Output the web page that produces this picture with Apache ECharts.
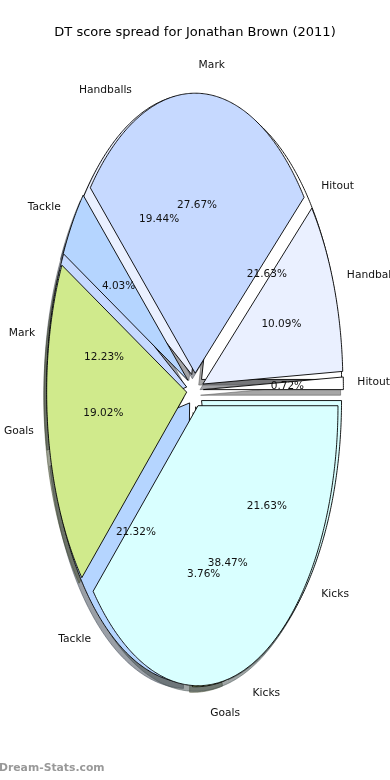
<!DOCTYPE html>
<html><head><meta charset="utf-8">
<script src="https://cdn.jsdelivr.net/npm/echarts@6/dist/echarts.min.js"></script>
<style>html,body{margin:0;padding:0;background:#fff}#c{width:390px;height:780px}</style>
</head><body><div id="c"></div>
<script>
// ---- data ----
const categories = ['Hitout', 'Handballs', 'Mark', 'Tackle', 'Goals', 'Kicks'];
const pctA = [0.72, 10.09, 27.67, 4.03, 19.02, 38.47];   // front pie
const pctB = [21.63, 19.44, 12.23, 21.32, 3.76, 21.63];  // back pie
const sliceColors = ['#ffffff', '#eaf0ff', '#c6d9ff', '#b5d5ff', '#d0ea8c', '#d9ffff'];
const titleText = 'DT score spread for Jonathan Brown (2011)';
const watermarkText = 'Dream-Stats.com';

// ---- layout ----
const CX = 195, CY = 390, RX = 140, RY = 280, EXPLODE = 0.06, SH = -0.02;
const FONT = '"DejaVu Sans", sans-serif';

function buildSlices(pcts, pie) {
  const total = pcts.reduce((a, b) => a + b, 0);
  let acc = 0;
  return pcts.map((v, i) => { const s = acc / total; acc += v; return [s, acc / total, i, pie, v]; });
}
const slicesA = buildSlices(pctA, 0);
const slicesB = buildSlices(pctB, 1);

function geom(t1, t2) {
  const a1 = t1 * 2 * Math.PI, a2 = t2 * 2 * Math.PI, am = (a1 + a2) / 2;
  return { a1, a2, am, ox: EXPLODE * Math.cos(am), oy: EXPLODE * Math.sin(am) };
}
const px = u => CX + u * RX, py = v => CY - v * RY;
function wedgePoints(t1, t2, dx, dy) {
  const g = geom(t1, t2);
  const pts = [[px(g.ox + dx), py(g.oy + dy)]];
  const n = Math.max(2, Math.ceil((g.a2 - g.a1) / (Math.PI / 360)));
  for (let k = 0; k <= n; k++) {
    const a = g.a1 + (g.a2 - g.a1) * k / n;
    pts.push([px(g.ox + dx + Math.cos(a)), py(g.oy + dy + Math.sin(a))]);
  }
  return pts;
}
function shadowColor(hex) {
  const r = parseInt(hex.slice(1, 3), 16), g = parseInt(hex.slice(3, 5), 16), b = parseInt(hex.slice(5, 7), 16);
  return 'rgba(' + Math.round(r * 0.3) + ',' + Math.round(g * 0.3) + ',' + Math.round(b * 0.3) + ',0.5)';
}

function wedgeRender(params, api) {
  const t1 = api.value(0), t2 = api.value(1), ci = api.value(2);
  return {
    type: 'polygon',
    shape: { points: wedgePoints(t1, t2, 0, 0) },
    style: { fill: sliceColors[ci], stroke: '#000', lineWidth: 0.9, lineJoin: 'miter' }
  };
}
function shadowRender(params, api) {
  const t1 = api.value(0), t2 = api.value(1), ci = api.value(2);
  const c = shadowColor(sliceColors[ci]);
  return {
    type: 'polygon',
    shape: { points: wedgePoints(t1, t2, SH, SH) },
    style: { fill: c, stroke: c, lineWidth: 1 }
  };
}
function labelRender(params, api) {
  const t1 = api.value(0), t2 = api.value(1), ci = api.value(2), v = api.value(4);
  const g = geom(t1, t2);
  const lx = px(g.ox + 1.1 * Math.cos(g.am)), ly = py(g.oy + 1.1 * Math.sin(g.am));
  const tx = px(g.ox + 0.6 * Math.cos(g.am)), ty = py(g.oy + 0.6 * Math.sin(g.am));
  return {
    type: 'group',
    children: [
      { type: 'text', x: lx, y: ly, style: { text: categories[ci], fill: '#111', font: '10.7px ' + FONT, align: lx > CX ? 'left' : 'right', verticalAlign: 'middle' } },
      { type: 'text', x: tx, y: ty, style: { text: v.toFixed(2) + '%', fill: '#111', font: '10.5px ' + FONT, align: 'center', verticalAlign: 'middle' } }
    ]
  };
}

const chart = echarts.init(document.getElementById('c'), null, { renderer: 'canvas' });
chart.setOption({
  animation: false,
  backgroundColor: '#fff',
  title: [
    { text: titleText, left: 'center', top: 21, textStyle: { fontFamily: FONT, fontSize: 13, fontWeight: 'normal', color: '#000' } },
    { text: watermarkText, left: -1, top: 763, padding: 0, textStyle: { fontFamily: FONT, fontSize: 10.8, fontWeight: 'bold', color: '#999999' } }
  ],
  series: [
    { type: 'custom', coordinateSystem: 'none', z: 1, renderItem: shadowRender, data: slicesB, silent: true },
    { type: 'custom', coordinateSystem: 'none', z: 1, renderItem: shadowRender, data: slicesA, silent: true },
    { type: 'custom', coordinateSystem: 'none', z: 2, renderItem: wedgeRender, data: slicesB, silent: true },
    { type: 'custom', coordinateSystem: 'none', z: 3, renderItem: wedgeRender, data: slicesA, silent: true },
    { type: 'custom', coordinateSystem: 'none', z: 4, renderItem: labelRender, data: slicesB.concat(slicesA), silent: true }
  ]
});
</script></body></html>
